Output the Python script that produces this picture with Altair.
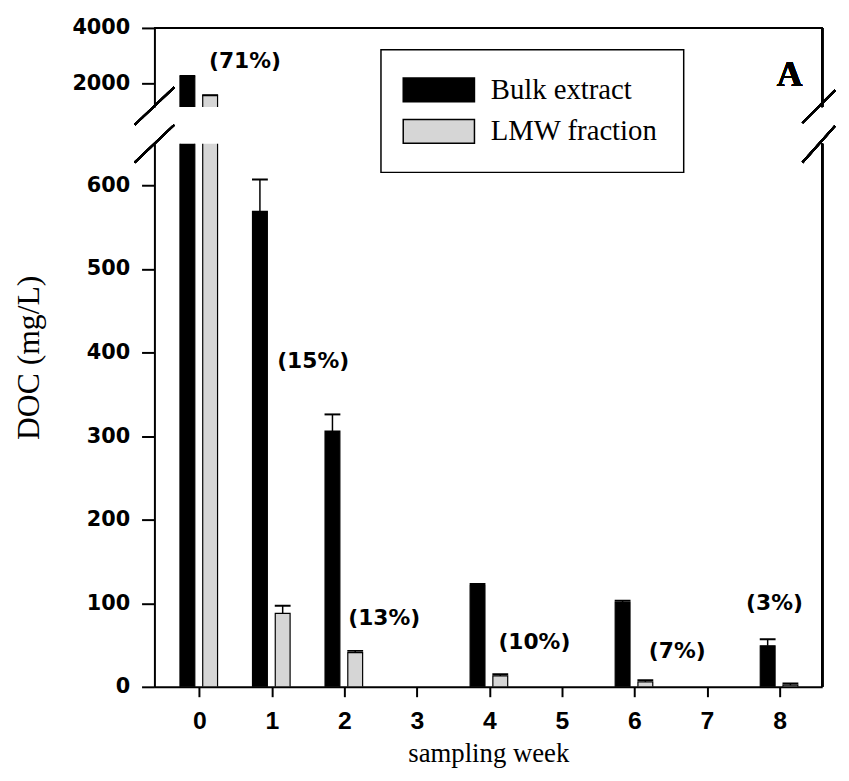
import altair as alt
import pandas as pd

# ---- data ----
weeks = [0, 1, 2, 4, 6, 8]
bulk = [2230, 569, 306, 121, 101, 49]
bulk_err = [40, 38, 20, 2, 2, 8]
lmw = [1570, 88, 41, 13, 6, 2]
lmw_err = [10, 9, 2, 2, 2, 2]
series = ["Bulk extract", "LMW fraction"]
series_colors = ["#000000", "#d6d6d6"]

pct_labels = ["(71%)", "(15%)", "(13%)", "(10%)", "(7%)", "(3%)"]
pct_x = [0.63, 1.57, 2.55, 4.62, 6.59, 7.93]
pct_y = [2790, 390, 82, 53, 43, 100]
pct_panel = ["upper", "lower", "lower", "lower", "lower", "lower"]

x_ticks = [0, 1, 2, 3, 4, 5, 6, 7, 8]
upper_ticks = [2000, 4000]
lower_ticks = [0, 100, 200, 300, 400, 500, 600]

rows = []
for w, b, be, l, le in zip(weeks, bulk, bulk_err, lmw, lmw_err):
    rows.append({"week": w, "series": series[0], "value": b, "top": b + be, "zero": 0})
    rows.append({"week": w, "series": series[1], "value": l, "top": l + le, "zero": 0})
df = pd.DataFrame(rows)
lab = pd.DataFrame({"text": pct_labels, "x": pct_x, "y": pct_y, "panel": pct_panel})

W = 675
H_UP = 80
H_LO = 549
BAR_W = 15
OFFS = {series[0]: -12, series[1]: 11}

color = alt.Color(
    "series:N",
    scale=alt.Scale(domain=series, range=series_colors),
    legend=alt.Legend(
        orient="none", legendX=229, legendY=22, title=None,
        symbolType="M-3,-1H3V1H-3Z", symbolSize=576,
        symbolStrokeColor="black", symbolStrokeWidth=1.5, symbolOpacity=1,
        symbolOffset=18, labelOffset=38,
        labelFont="Liberation Serif", labelFontSize=29, labelColor="black",
        rowPadding=11, padding=26, strokeColor="black", labelLimit=400,
    ),
)


def rule(x1, x2, y1, y2):
    return alt.Chart(df).mark_rule(color="black", strokeWidth=2).encode(
        x=alt.value(x1), x2=alt.value(x2), y=alt.value(y1), y2=alt.value(y2)
    )


def panel(ydomain, yaxis, xaxis, height, which, extras):
    xsc = alt.Scale(domain=[-0.55, 8.52], nice=False, zero=False)
    ysc = alt.Scale(domain=ydomain, nice=False, zero=False)

    def X(f):
        return alt.X(f, type="quantitative", scale=xsc, axis=xaxis)

    def Y(f):
        return alt.Y(f, type="quantitative", scale=ysc, axis=yaxis)

    layers = []
    for s in series:
        off = OFFS[s]
        base = alt.Chart(df).transform_filter(alt.datum.series == s)
        layers.append(
            base.mark_bar(width=BAR_W, xOffset=off, clip=True, stroke="black", strokeWidth=1.2).encode(
                x=X("week"), y=Y("value"), y2="zero:Q", color=color
            )
        )
        layers.append(
            base.mark_rule(xOffset=off, clip=True, color="black", strokeWidth=1.5).encode(
                x=X("week"), y=Y("value"), y2="top:Q"
            )
        )
        layers.append(
            base.mark_rule(xOffset=off - 8, x2Offset=off + 8, clip=True, color="black", strokeWidth=2).encode(
                x=X("week"), x2="week:Q", y=Y("top")
            )
        )
    layers.append(
        alt.Chart(lab).transform_filter(alt.datum.panel == which).mark_text(
            font="DejaVu Sans", fontWeight="bold", fontSize=22, color="black"
        ).encode(x=X("x"), y=Y("y"), text="text:N")
    )
    layers.append(rule(W, W, 0, height))  # right frame
    layers.extend(extras)
    return alt.layer(*layers).properties(width=W, height=height)


xaxis_up = alt.Axis(labels=False, ticks=False, domain=False, title=None, values=x_ticks)
xaxis_lo = alt.Axis(values=x_ticks, format="d", title="sampling week", tickSize=10,
                    labelFont="Liberation Sans", labelFontSize=25, labelPadding=12,
                    titleFontSize=27, titlePadding=8)
yaxis_lo = alt.Axis(values=lower_ticks, format="d", title="DOC (mg/L)",
                    titleFontSize=32, titleY=216, titlePadding=41)
yaxis_up = alt.Axis(values=upper_ticks, format="d", title=None)

a_label = alt.Chart(df).mark_text(text="A", font="Liberation Serif", fontWeight="bold",
                                  fontSize=36, color="black").encode(
    x=alt.value(642), y=alt.value(48)
)

upper = panel([1150, 4000], yaxis_up, xaxis_up, H_UP, "upper", [
    rule(0, W, 0, 0),
    a_label,
    rule(-20, 20, 98, 60),
    rule(655, 688, 96, 63),
])

lower = panel([0, 650], yaxis_lo, xaxis_lo, H_LO, "lower", [
    rule(-20, 20, 19, -19),
    rule(655, 688, 19, -18),
])

chart = alt.vconcat(upper, lower, spacing=37, bounds="flush").configure_view(
    stroke=None
).configure_axis(
    domainColor="black", domainWidth=2, tickColor="black", tickWidth=2, tickSize=13,
    labelFont="DejaVu Sans", labelFontWeight="bold", labelFontSize=21, labelPadding=12,
    labelColor="black", titleFont="Liberation Serif", titleFontWeight="normal",
    titleColor="black", grid=False,
).configure_legend(strokeWidth=1.5)

chart.save("out.html", embed_options={"renderer": "svg", "actions": False})
